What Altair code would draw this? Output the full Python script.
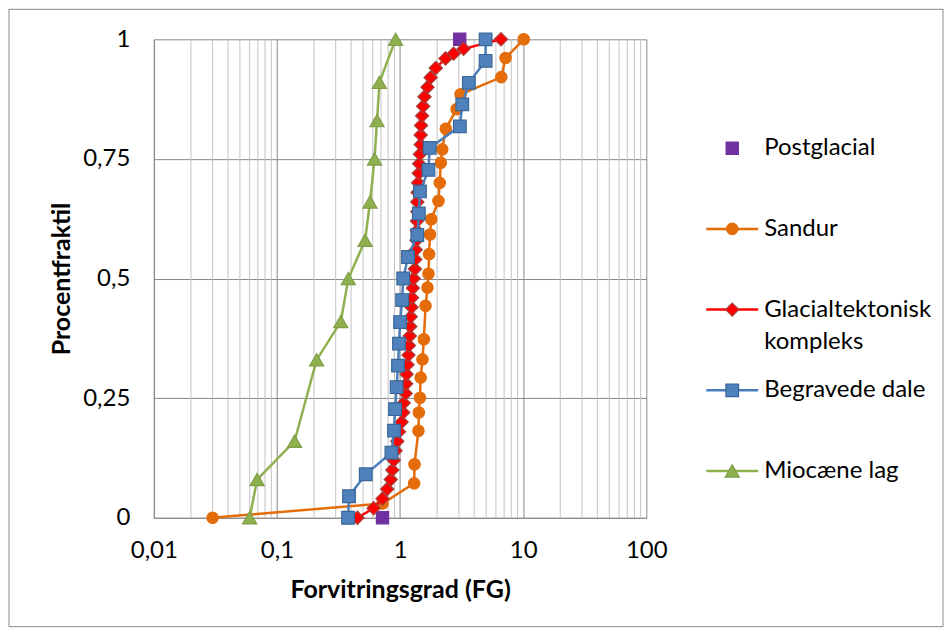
import altair as alt
import pandas as pd

FONT = "Lato"

# ---------------- data ----------------
x_ticks = [0.01, 0.1, 1, 10, 100]
x_minor_ticks = [0.02, 0.03, 0.04, 0.05, 0.06, 0.07, 0.08, 0.09,
                 0.2, 0.3, 0.4, 0.5, 0.6, 0.7, 0.8, 0.9,
                 2, 3, 4, 5, 6, 7, 8, 9,
                 20, 30, 40, 50, 60, 70, 80, 90]
y_ticks = [0, 0.25, 0.5, 0.75, 1]

postglacial_x = [0.72, 3.05]
postglacial_f = [0.0, 1.0]

sandur_x = [0.03, 0.72, 1.30, 1.31, 1.41, 1.42, 1.45, 1.47, 1.52, 1.56,
            1.61, 1.67, 1.70, 1.72, 1.75, 1.79, 2.05, 2.10, 2.14, 2.20,
            2.35, 2.88, 3.10, 6.64, 7.19, 10.1]
sandur_f = [0.0, 0.03, 0.072, 0.112, 0.182, 0.22, 0.251, 0.293, 0.331, 0.373,
            0.443, 0.481, 0.51, 0.551, 0.592, 0.624, 0.662, 0.70, 0.742, 0.77,
            0.813, 0.854, 0.885, 0.921, 0.961, 1.0]

glacial_x = [0.45, 0.61, 0.72, 0.785, 0.84, 0.865, 0.89, 0.92, 0.95, 0.98,
             1.03, 1.06, 1.07, 1.11, 1.12, 1.13, 1.15, 1.17, 1.18, 1.20,
             1.21, 1.22, 1.24, 1.25, 1.27, 1.29, 1.32, 1.33, 1.34, 1.36,
             1.37, 1.37, 1.38, 1.38, 1.39, 1.40, 1.42, 1.43, 1.45, 1.47,
             1.47, 1.48, 1.51, 1.54, 1.58, 1.67, 1.77, 1.95, 2.34, 2.72,
             3.28, 6.6]
glacial_f = [0.00, 0.02, 0.04, 0.06, 0.08, 0.10, 0.12, 0.14, 0.16, 0.18,
             0.20, 0.22, 0.24, 0.26, 0.28, 0.30, 0.32, 0.34, 0.36, 0.38,
             0.40, 0.42, 0.44, 0.46, 0.48, 0.50, 0.52, 0.54, 0.56, 0.58,
             0.60, 0.62, 0.64, 0.66, 0.68, 0.70, 0.72, 0.74, 0.76, 0.78,
             0.80, 0.82, 0.84, 0.86, 0.88, 0.90, 0.92, 0.94, 0.96, 0.97,
             0.98, 1.00]

begravede_x = [0.378, 0.385, 0.526, 0.85, 0.893, 0.91, 0.938, 0.962, 0.98, 1.0,
               1.04, 1.06, 1.16, 1.38, 1.42, 1.45, 1.70, 1.74, 3.06, 3.2,
               3.62, 4.95, 4.95]
begravede_f = [0.0, 0.045, 0.091, 0.136, 0.182, 0.227, 0.273, 0.318, 0.364, 0.409,
               0.455, 0.5, 0.545, 0.591, 0.636, 0.682, 0.727, 0.773, 0.818, 0.864,
               0.909, 0.955, 1.0]

miocaen_x = [0.060, 0.069, 0.139, 0.21, 0.33, 0.38, 0.52, 0.57, 0.62, 0.65, 0.68, 0.92]
miocaen_f = [0.0, 0.08, 0.16, 0.33, 0.41, 0.5, 0.58, 0.66, 0.75, 0.83, 0.91, 1.0]

series_names = ["Postglacial", "Sandur", "Glacialtektonisk kompleks",
                "Begravede dale", "Miocæne lag"]
series_labels = ["Postglacial", "Sandur", "Glacialtektonisk\nkompleks",
                 "Begravede dale", "Miocæne lag"]
series_x = [postglacial_x, sandur_x, glacial_x, begravede_x, miocaen_x]
series_f = [postglacial_f, sandur_f, glacial_f, begravede_f, miocaen_f]
legend_rows = [0, 1, 2, 3, 4]

# ---------------- styles ----------------
has_line = [False, True, True, True, True]
line_colors = ["#7030A0", "#E46C0A", "#FF0000", "#4A7EBB", "#8FB04F"]
fill_colors = ["#7030A0", "#E46C0A", "#FF0000", "#4F81BD", "#8FB04F"]
stroke_colors = ["#7030A0", "#E46C0A", "#A5403C", "#3B6696", "#7F9E45"]
shapes = ["square", "circle", "diamond", "square", "triangle-up"]
sizes = [150, 130, 175, 160, 200]

label_expr = "replace(format(datum.value, '~g'), '.', ',')"

x_scale = alt.Scale(type="log", domain=[0.01, 100], nice=False)
y_scale = alt.Scale(domain=[0, 1], nice=False, zero=False)

x_axis = alt.Axis(values=x_ticks, labelExpr=label_expr, title="Forvitringsgrad (FG)",
                  grid=True, gridColor="#878787", gridWidth=1,
                  domainColor="#878787", domainWidth=1,
                  ticks=False, tickSize=0, labelPadding=21, titlePadding=15,
                  labelFlush=False, labelOverlap=False)
y_axis = alt.Axis(values=y_ticks, labelExpr=label_expr, title="Procentfraktil",
                  grid=True, gridColor="#878787", gridWidth=1,
                  domainColor="#878787", domainWidth=1,
                  ticks=False, tickSize=0, labelPadding=24, titlePadding=8,
                  labelFlush=False, labelOverlap=False)

# ---------------- main plot ----------------
border = alt.Chart(pd.DataFrame({"a": [0]})).mark_rect(
    fillOpacity=0, stroke="#8C8C8C", strokeWidth=1
).encode(x=alt.value(-145), x2=alt.value(790), y=alt.value(-30), y2=alt.value(588))

minor = alt.Chart(pd.DataFrame({"x": x_minor_ticks})).mark_rule(
    color="#C3C3C3", strokeWidth=1
).encode(x=alt.X("x:Q", scale=x_scale, axis=x_axis))

layers = [border, minor]
for i, name in enumerate(series_names):
    df = pd.DataFrame({"x": series_x[i], "f": series_f[i],
                       "i": list(range(len(series_x[i])))})
    enc = dict(x=alt.X("x:Q", scale=x_scale, axis=x_axis),
               y=alt.Y("f:Q", scale=y_scale, axis=y_axis))
    if has_line[i]:
        layers.append(alt.Chart(df).mark_line(color=line_colors[i], strokeWidth=2.5)
                      .encode(order=alt.Order("i:Q"), **enc))
    layers.append(alt.Chart(df).mark_point(
        shape=shapes[i], filled=True, fill=fill_colors[i], stroke=stroke_colors[i],
        strokeWidth=1.2, size=sizes[i], opacity=1, fillOpacity=1, strokeOpacity=1
    ).encode(**enc))

main = alt.layer(*layers).properties(width=493, height=479)

# ---------------- legend panel ----------------
leg_scale = alt.Scale(domain=[-1.35, 4.58], reverse=True, nice=False, zero=False)
leg_layers = []
for i, name in enumerate(series_names):
    ldf = pd.DataFrame({"row": [legend_rows[i]], "label": [series_labels[i]]})
    ly = alt.Y("row:Q", scale=leg_scale, axis=None)
    if has_line[i]:
        leg_layers.append(alt.Chart(ldf).mark_rule(color=line_colors[i], strokeWidth=2.5)
                          .encode(y=ly, x=alt.value(0), x2=alt.value(52)))
    leg_layers.append(alt.Chart(ldf).mark_point(
        shape=shapes[i], filled=True, fill=fill_colors[i], stroke=stroke_colors[i],
        strokeWidth=1.2, size=sizes[i], opacity=1, fillOpacity=1, strokeOpacity=1
    ).encode(y=ly, x=alt.value(26)))
    leg_layers.append(alt.Chart(ldf).mark_text(
        align="left", baseline="alphabetic", dy=7, font=FONT, fontSize=24,
        lineBreak="\n", lineHeight=32, color="#000000"
    ).encode(y=ly, x=alt.value(58), text="label:N"))

legend = alt.layer(*leg_layers).properties(width=230, height=479)

chart = alt.hconcat(main, legend, spacing=60, bounds="flush").properties(
    padding=0, background="white"
).configure_view(stroke=None).configure_axis(
    labelFont=FONT, titleFont=FONT, labelFontSize=24, titleFontSize=25,
    labelColor="#000000", titleColor="#000000", titleFontWeight="bold"
)

chart.save("out.html", embed_options={"renderer": "svg", "actions": False})
